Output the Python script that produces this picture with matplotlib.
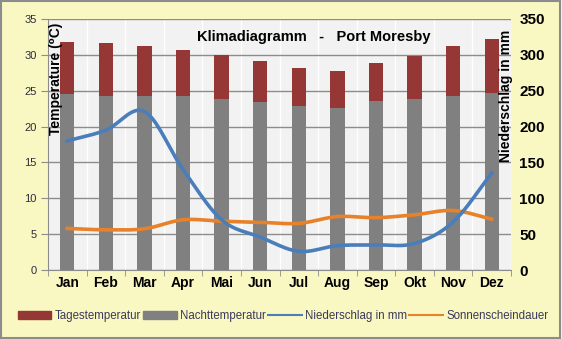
import matplotlib
matplotlib.use("Agg")
import matplotlib.pyplot as plt
import numpy as np
from matplotlib.patches import Patch, Rectangle
from matplotlib.lines import Line2D

plt.rcParams['font.family'] = ['Liberation Sans', 'DejaVu Sans']

months = ["Jan", "Feb", "Mar", "Apr", "Mai", "Jun", "Jul", "Aug", "Sep", "Okt", "Nov", "Dez"]
day_temp = [31.8, 31.7, 31.3, 30.7, 30.0, 29.2, 28.2, 27.8, 28.8, 29.9, 31.3, 32.2]
night_temp = [24.5, 24.3, 24.2, 24.2, 23.9, 23.4, 22.9, 22.6, 23.6, 23.9, 24.2, 24.7]
rain_mm = [180, 195, 221, 140, 70, 46, 26, 34, 35, 37, 67, 135]
sunshine = [5.8, 5.6, 5.75, 7.0, 6.8, 6.65, 6.5, 7.45, 7.3, 7.7, 8.3, 7.1]

BG = "#f9f7c2"
PLOT_BG = "#f2f2f2"
RED = "#953735"
GRAY = "#808080"
BLUE = "#4a7ebb"
ORANGE = "#e8822a"
TXT = "#2b2b40"


def smooth(y, n=20):
    # Catmull-Rom spline through the points, like Excel's smoothed line
    y = np.asarray(y, dtype=float)
    p = np.concatenate([[2 * y[0] - y[1]], y, [2 * y[-1] - y[-2]]])
    xs, ys = [], []
    for i in range(len(y) - 1):
        p0, p1, p2, p3 = p[i], p[i + 1], p[i + 2], p[i + 3]
        t = np.linspace(0, 1, n, endpoint=False)
        yy = 0.5 * ((2 * p1) + (-p0 + p2) * t + (2 * p0 - 5 * p1 + 4 * p2 - p3) * t ** 2
                    + (-p0 + 3 * p1 - 3 * p2 + p3) * t ** 3)
        xs.append(i + t)
        ys.append(yy)
    xs.append([len(y) - 1])
    ys.append([y[-1]])
    return np.concatenate(xs), np.concatenate(ys)


fig = plt.figure(figsize=(5.62, 3.39), dpi=100, facecolor=BG)
fig.patches.append(Rectangle((0.002, 0.003), 0.995, 0.994, transform=fig.transFigure,
                             fill=False, edgecolor="#8c8c8c", lw=1.5))

ax = fig.add_axes([48 / 562, 69 / 339, 463 / 562, 251 / 339])
ax.set_facecolor(PLOT_BG)
x = np.arange(len(months))

ax.bar(x, night_temp, width=0.37, color=GRAY, zorder=2)
ax.bar(x, np.array(day_temp) - np.array(night_temp), bottom=night_temp,
       width=0.37, color=RED, zorder=2)

sx, sy = smooth(sunshine)
ax.plot(sx, sy, color=ORANGE, lw=2.6, zorder=4)

ax.set_xlim(-0.5, 11.5)
ax.set_ylim(0, 35)
ax.set_yticks(range(0, 36, 5))
ax.set_xticks(x)
ax.set_xticklabels(months, fontsize=10, fontweight="bold", color="black")
ax.set_xticks(np.arange(-0.5, 12, 1), minor=True)
ax.tick_params(axis="x", which="major", length=0, pad=4)
ax.tick_params(axis="x", which="minor", length=4, color="#8c8c8c")
ax.tick_params(axis="y", labelsize=8, colors="#8c8c8c", labelcolor=TXT, length=5, pad=3)
ax.grid(axis="y", color="#8c8c8c", lw=1, zorder=1)
ax.grid(axis="x", which="minor", color="white", lw=1, zorder=1)
ax.set_axisbelow(True)
for s in ["top", "right"]:
    ax.spines[s].set_visible(False)
for s in ["left", "bottom"]:
    ax.spines[s].set_color("#8c8c8c")

ax2 = ax.twinx()
rx, ry = smooth(rain_mm)
ax2.plot(rx, ry, color=BLUE, lw=2.6, zorder=5)
ax2.set_ylim(0, 350)
ax2.set_yticks(range(0, 351, 50))
ax2.tick_params(axis="y", length=0, pad=6, labelsize=11)
for lab in ax2.get_yticklabels():
    lab.set_fontweight("bold")
for s in ax2.spines.values():
    s.set_visible(False)

fig.text(314 / 562, 1 - 37 / 339, "Klimadiagramm   -   Port Moresby",
         ha="center", va="center", fontsize=10.5, fontweight="bold")
fig.text(56 / 562, 1 - 79 / 339, "Temperature (\u2070C)", rotation=90,
         ha="center", va="center", fontsize=10, fontweight="bold")
fig.text(506 / 562, 1 - 96 / 339, "Niederschlag in mm", rotation=90,
         ha="center", va="center", fontsize=10, fontweight="bold")

handles = [Patch(color=RED), Patch(color=GRAY),
           Line2D([], [], color=BLUE, lw=1.5), Line2D([], [], color=ORANGE, lw=1.5)]
labels = ["Tagestemperatur", "Nachttemperatur", "Niederschlag in mm", "Sonnenscheindauer"]
leg = fig.legend(handles, labels, loc="center", bbox_to_anchor=(283 / 562, 1 - 316 / 339),
                 ncol=4, frameon=False, fontsize=8.3, handlelength=2.9,
                 handletextpad=0.3, columnspacing=0.2)
for t in leg.get_texts():
    t.set_color("#3a3a5a")

fig.savefig("out.png", dpi=100, facecolor=BG)
